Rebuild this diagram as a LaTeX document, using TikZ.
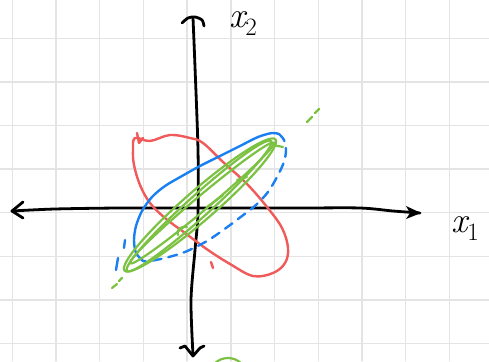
\documentclass[tikz,border=0pt]{standalone}
\usepackage{fontspec}
\usetikzlibrary{arrows.meta}
\definecolor{gridc}{HTML}{E4E4E4}
\definecolor{redc}{HTML}{F05A5A}
\definecolor{bluec}{HTML}{1A80F2}
\definecolor{greenc}{HTML}{7CC242}
\newcommand{\bigsub}[2]{{\fontsize{36}{36}\selectfont\itshape #1}\raisebox{-8pt}{\fontsize{25}{25}\selectfont #2}}
\begin{document}
\begin{tikzpicture}[x=1pt,y=-1pt, line cap=round, line join=round,
  gridline/.style={gridc, line width=1.4pt},
  axis/.style={black, line width=2.8pt},
  redpen/.style={redc, line width=2.4pt},
  bluepen/.style={bluec, line width=2.4pt},
  greenpen/.style={greenc, line width=2.2pt},
  lbl/.style={inner sep=0pt, anchor=base west}]
\useasboundingbox (0,0) rectangle (489,361);
\fill[white] (0,0) rectangle (489,361);
\clip (0,0) rectangle (489,361);
% grid
\foreach \i in {0,...,10} \draw[gridline] ({12.3+43.7*\i},0) -- ({12.3+43.7*\i},361);
\foreach \j in {0,...,7} \draw[gridline] (0,{38.3+43.6*\j}) -- (489,{38.3+43.6*\j});
% axes
\draw[axis] plot[smooth] coordinates {(12,211) (55,209) (120,208) (200,208) (300,208) (360,208) (393,211) (420,213)};
\draw[axis] (23,202) -- (12,211) -- (23,218);
\fill (421,213) -- (406,206) -- (410,213) -- (406,219) -- cycle;
\draw[axis] plot[smooth] coordinates {(193,18) (195,67) (198,150) (198,213) (195,250) (191,300) (193,355)};
\draw[axis] plot[smooth] coordinates {(182,23) (188,18) (195,17) (202,20) (204,26)};
\draw[axis] (180,348) -- (185,346) -- (193,356) -- (200,348) -- (204,346);
% red
\draw[redpen] plot[smooth cycle, tension=0.6] coordinates {(135,138) (150,141) (170,135) (190,138) (203,143) (223,162) (247,184) (267,207) (282,228) (288,248) (285,263) (273,273) (253,276) (230,264) (208,250) (185,233) (165,218) (150,203) (140,185) (134,165) (133,150)};
\draw[redpen] (137,133) -- (139,143) -- (143,138);
\draw[redpen] (211,262) -- (213,268);
% blue
\draw[bluepen] plot[smooth] coordinates {(143,261) (136,253) (134,240) (136,226) (142,211) (152,197) (165,186) (182,176) (200,166) (220,156) (240,146) (258,137) (272,133) (279,134)};
\draw[bluepen, dash pattern=on 9pt off 7pt] plot[smooth] coordinates {(279,134) (284,140) (286,150) (284,162) (277,177) (268,192) (256,205) (242,216) (226,228) (207,241) (185,252) (165,258) (150,261) (143,261)};
\draw[bluepen] (125,240) -- (124,248);
\draw[bluepen] (118,258) -- (116,270);
% green
\draw[greenpen, rotate around={41:(200,205)}] (200,205) ellipse (100 and 15);
\draw[greenpen, rotate around={42:(199,206)}] (199,206) ellipse (97 and 11);
\draw[greenpen, rotate around={40:(202,203)}] (202,203) ellipse (94 and 7);
\draw[greenpen] (207,207) -- (223,195);
\draw[greenpen] (237,180) -- (247,177);
\draw[greenpen] (178,235) .. controls (176,228) and (183,226) .. (187,227);
\draw[greenpen] (273,145) -- (283,147);
\draw[greenpen] (307,122) -- (312,117);
\draw[greenpen] (315,113) -- (319,109);
\draw[greenpen] (112,288) -- (117,284);
\draw[greenpen] (119,281) -- (122,278);
\draw[greenpen] (228,377) circle (19);
% labels
\node[lbl] (xtwo) at (229,28) {\bigsub{x}{2}};
\node[lbl] (xone) at (451,232) {\bigsub{x}{1}};
\end{tikzpicture}
\end{document}
